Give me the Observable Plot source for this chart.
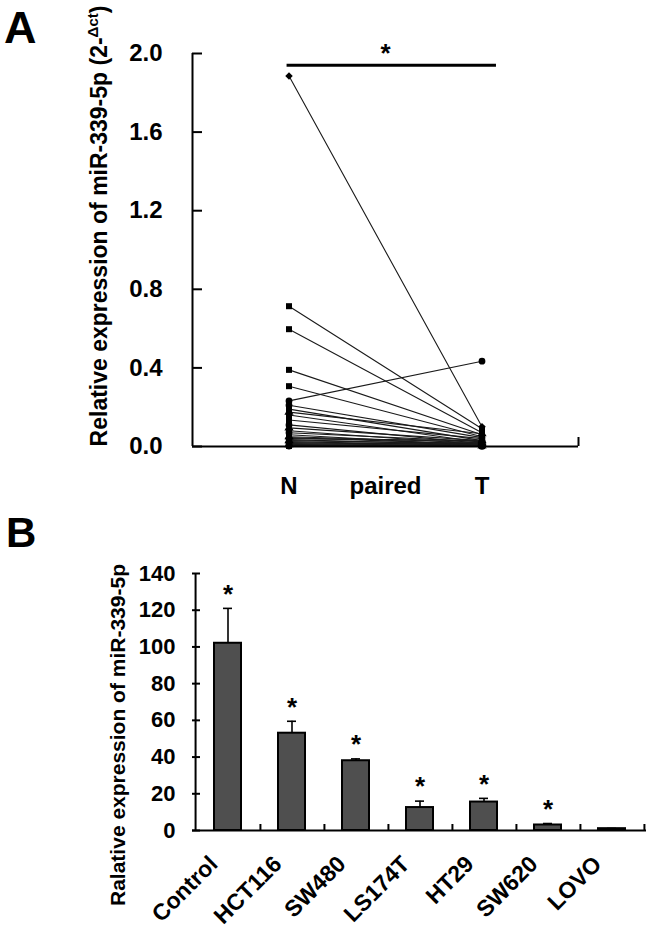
<!DOCTYPE html>
<html><head><meta charset="utf-8">
<script src="https://cdn.jsdelivr.net/npm/d3@7"></script>
<script src="https://cdn.jsdelivr.net/npm/@observablehq/plot@0.6"></script>
<style>
body{margin:0;background:#fff;}
#wrap{width:648px;height:931px;position:relative;overflow:hidden;background:#fff;}
#wrap svg{display:block;}
</style></head><body><div id="wrap"></div>
<script>
// ---- Panel A: paired N / T values (2^-Δct) ----
const nValues = [1.886, 0.714, 0.597, 0.390, 0.307, 0.232, 0.210, 0.190, 0.175, 0.160, 0.135, 0.110, 0.095, 0.080, 0.070, 0.060, 0.050, 0.045, 0.040, 0.035, 0.030, 0.025, 0.020, 0.015, 0.012, 0.010, 0.008, 0.005, 0.003, 0.002];
const tValues = [0.100, 0.090, 0.070, 0.060, 0.050, 0.434, 0.045, 0.030, 0.065, 0.020, 0.040, 0.015, 0.030, 0.010, 0.025, 0.005, 0.020, 0.012, 0.030, 0.008, 0.015, 0.005, 0.010, 0.004, 0.020, 0.003, 0.006, 0.002, 0.010, 0.001];
const markers = ["diamond2","square","square","square","square","circle","circle","square","triangle","square","square","circle","triangle","square","circle","square","triangle","square","circle","square","triangle","square","circle","square","square","triangle","circle","square","square","circle"];
const xTicksA = [1, 2, 3];
const xLabelsA = ["N", "paired", "T"];
const yTicksA = [0, 0.4, 0.8, 1.2, 1.6, 2.0];
const sigBarA = {x1: 0.98, x2: 3.15, y: 1.94, label: "*", xLabel: 2};

// ---- Panel B: cell lines ----
const cellLines = ["Control", "HCT116", "SW480", "LS174T", "HT29", "SW620", "LOVO"];
const meanExpr = [102, 53, 38, 12.5, 15.5, 3, 1];
const errUpper = [121, 59.5, 39, 16, 17.5, 3.8, 1.1];
const significant = [true, true, true, true, true, true, false];
const yTicksB = [0, 20, 40, 60, 80, 100, 120, 140];

const FONT = "'Liberation Sans', Arial, Helvetica, sans-serif";
const wrap = document.getElementById("wrap");

// build points
const points = [];
nValues.forEach((v, i) => {
  points.push({id: i, x: xTicksA[0], v: v, m: markers[i]});
  points.push({id: i, x: xTicksA[2], v: tValues[i], m: markers[i]});
});

const A_W = 648, A_H = 505, A_ML = 192, A_MR = 70, A_MT = 53, A_MB = 59;
const aFrameW = A_W - A_ML - A_MR, aFrameH = A_H - A_MT - A_MB;

const chartA = Plot.plot({
  width: A_W, height: A_H, marginTop: A_MT, marginBottom: A_MB, marginLeft: A_ML, marginRight: A_MR,
  style: {fontFamily: FONT, background: "white", color: "black", overflow: "visible"},
  x: {domain: [0, 4]},
  y: {domain: [0, 2]},
  symbol: {domain: ["diamond2","square","triangle","circle"], range: ["diamond2","square","triangle","circle"]},
  marks: [
    Plot.line(points, {x: "x", y: "v", z: "id", stroke: "#1a1a1a", strokeWidth: 1.1}),
    Plot.dot(points, {x: "x", y: "v", symbol: "m", fill: "black", stroke: "none", r: 3.4}),
    Plot.ruleX([0], {strokeWidth: 2}),
    Plot.ruleY([0], {strokeWidth: 2}),
    Plot.tickX([4], {x: d => d, insetTop: aFrameH - 9, strokeWidth: 2}),
    Plot.tickY(yTicksA, {y: d => d, insetRight: aFrameW - 10, strokeWidth: 2}),
    Plot.ruleY([sigBarA.y], {x1: sigBarA.x1, x2: sigBarA.x2, strokeWidth: 3}),
    Plot.text([sigBarA], {x: "xLabel", y: "y", text: "label", dy: -12, fontSize: 26, fontWeight: "bold"}),
    Plot.axisY({ticks: yTicksA, tickFormat: d => d.toFixed(1), tickSize: 0, tickPadding: 30, fontSize: 24, fontWeight: "bold", label: null}),
    Plot.axisX({ticks: xTicksA, tickFormat: (d, i) => xLabelsA[i], tickSize: 0, tickPadding: 30, fontSize: 24, fontWeight: "bold", label: null})
  ]
});

const bars = cellLines.map((c, i) => ({name: c, mean: meanExpr[i], err: errUpper[i], sig: significant[i]}));
const B_W = 648, B_H = 426, B_ML = 192, B_MR = 2, B_MT = 68, B_MB = 101;
const bFrameW = B_W - B_ML - B_MR, bFrameH = B_H - B_MT - B_MB;
const step = bFrameW / cellLines.length;

const chartB = Plot.plot({
  width: B_W, height: B_H, marginTop: B_MT, marginBottom: B_MB, marginLeft: B_ML, marginRight: B_MR,
  style: {fontFamily: FONT, background: "white", color: "black", overflow: "visible"},
  x: {domain: cellLines, paddingInner: 0.58, paddingOuter: 0.29},
  y: {domain: [0, 140]},
  marks: [
    Plot.ruleX(bars, {x: "name", y1: "mean", y2: "err", strokeWidth: 1.6}),
    Plot.tickY(bars, {x: "name", y: "err", insetLeft: 9, insetRight: 9, strokeWidth: 1.6}),
    Plot.barY(bars, {x: "name", y: "mean", fill: "#4f4f4f", stroke: "black", strokeWidth: 2}),
    Plot.text(bars.filter(d => d.sig), {x: "name", y: "err", text: () => "*", dy: -14, fontSize: 26, fontWeight: "bold"}),
    Plot.ruleY([0], {strokeWidth: 2}),
    Plot.ruleX([cellLines[0]], {x: d => d, dx: -step / 2, strokeWidth: 2}),
    Plot.tickX(cellLines, {x: d => d, dx: step / 2, insetTop: bFrameH - 6, strokeWidth: 2}),
    Plot.tickY(yTicksB, {y: d => d, insetRight: bFrameW - 8, strokeWidth: 2}),
    Plot.axisY({ticks: yTicksB, tickSize: 0, tickPadding: 17, fontSize: 22, fontWeight: "bold", label: null}),
    Plot.axisX({ticks: [], label: null}),
    Plot.text(cellLines, {x: d => d, frameAnchor: "bottom", text: d => d, rotate: -45, textAnchor: "end", dx: -9, dy: 35, fontSize: 23, fontWeight: "bold"})
  ]
});

wrap.appendChild(chartA);
wrap.appendChild(chartB);

// Axis titles and panel letters
const sA = d3.select(chartA);
const tA = sA.append("text")
  .attr("transform", "translate(107,226) rotate(-90)")
  .attr("text-anchor", "middle")
  .attr("font-family", FONT).attr("font-weight", "bold").attr("font-size", 23).attr("fill", "black");
tA.append("tspan").text("Relative expression of miR-339-5p (2-");
tA.append("tspan").attr("dy", -9).attr("font-size", 15).text("Δct");
tA.append("tspan").attr("dy", 9).text(")");
sA.append("text").attr("x", 4).attr("y", 43).attr("text-anchor", "start")
  .attr("font-family", FONT).attr("font-weight", "bold").attr("font-size", 45).attr("fill", "black").text("A");

const sB = d3.select(chartB);
sB.append("text")
  .attr("transform", "translate(125,230) rotate(-90)")
  .attr("text-anchor", "middle")
  .attr("font-family", FONT).attr("font-weight", "bold").attr("font-size", 21).attr("fill", "black")
  .text("Ralative expression of miR-339-5p");
sB.append("text").attr("x", 6).attr("y", 42).attr("text-anchor", "start")
  .attr("font-family", FONT).attr("font-weight", "bold").attr("font-size", 42).attr("fill", "black").text("B");
</script>
</body></html>
